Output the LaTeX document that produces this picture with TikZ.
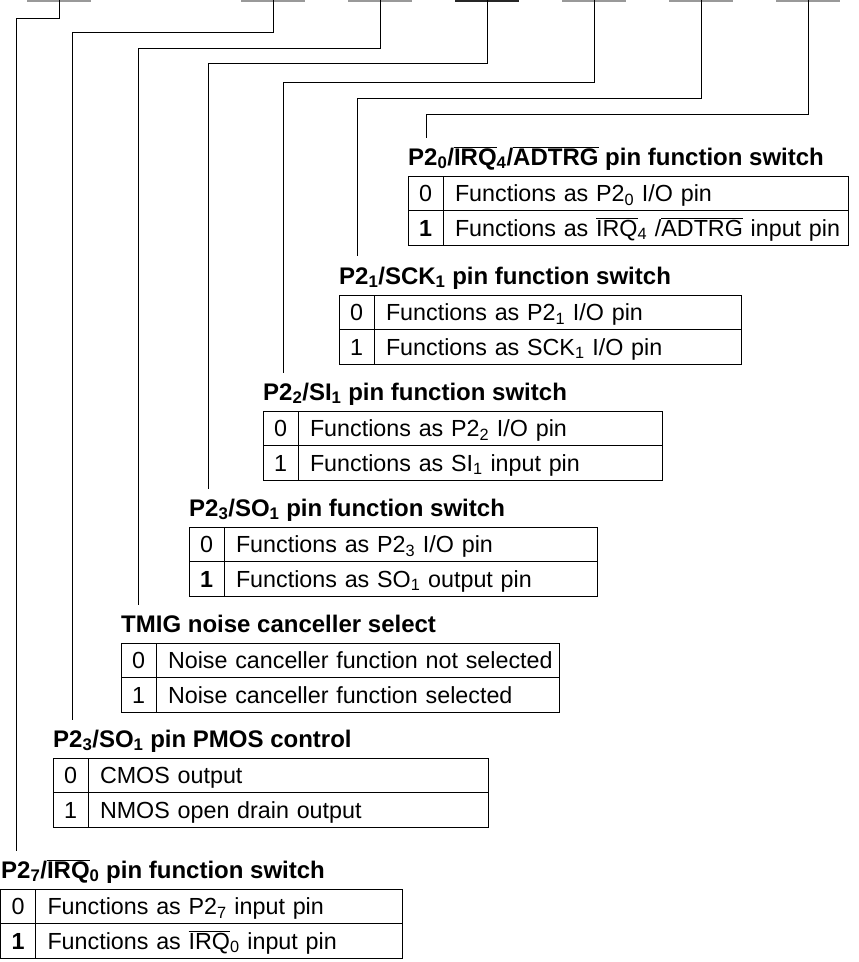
\documentclass[tikz,border=0pt]{standalone}
\usepackage{fontspec}
\setmainfont{Liberation Sans}
\usetikzlibrary{positioning,calc}
\newcommand\ttlfont{\fontsize{24}{28}\selectfont\bfseries}
\newcommand\rowfont{\fontsize{23.3}{28}\selectfont}
\newcommand\ovl[1]{\ensuremath{\overline{\mbox{#1}}}}
\newcommand\subs[1]{\textsubscript{#1}}

\begin{document}
\begin{tikzpicture}[x=1pt, y=-1pt,
  wire/.style={line width=1pt},
  seg/.style={line width=3pt, black!40},
  ttl/.style={anchor=base west, inner sep=0pt, font=\ttlfont},
  val/.style={draw, line width=1pt, minimum width=35pt, minimum height=34.5pt, inner sep=0pt, outer sep=0pt,
    anchor=north west, font=\rowfont, text height=17pt, text depth=0pt},
  desc/.style={draw, line width=1pt, minimum height=34.5pt, text width=#1pt, inner xsep=6pt, inner ysep=0pt,
    outer sep=0pt, align=left, font=\rowfont, text height=17pt, text depth=0pt,
    execute at begin node={\hyphenpenalty=10000\hspace*{6pt}}},
]
  \useasboundingbox (0,0) rectangle (859,962);
  % --- bit cells of the register ---
  \coordinate (b7) at (59,0);
  \coordinate (b5) at (273,0);
  \coordinate (b4) at (380,0);
  \coordinate (b3) at (487,0);
  \coordinate (b2) at (594,0);
  \coordinate (b1) at (701,0);
  \coordinate (b0) at (808,0);
  \foreach \b in {b7,b5,b4,b2,b1,b0}
    \draw[seg] ($(\b)+(-32,0)$) -- ($(\b)+(32,0)$);
  \draw[seg, black!85] ($(b3)+(-32,0)$) -- ($(b3)+(32,0)$);

  % --- wire ends above the titles ---
  \coordinate (e0) at (426,138);
  \coordinate (e1) at (357,256);
  \coordinate (e2) at (283,373);
  \coordinate (e3) at (208,489);
  \coordinate (e4) at (138,605);
  \coordinate (e5) at (72,720);
  \coordinate (e7) at (16,851);
  \draw[wire] (b0) -- ++(0,114) -| (e0);
  \draw[wire] (b1) -- ++(0,98) -| (e1);
  \draw[wire] (b2) -- ++(0,82) -| (e2);
  \draw[wire] (b3) -- ++(0,63) -| (e3);
  \draw[wire] (b4) -- ++(0,48) -| (e4);
  \draw[wire] (b5) -- ++(0,32) -| (e5);
  \draw[wire] (b7) -- ++(0,18) -| (e7);

  % --- P2_0 / IRQ4 / ADTRG ---
  \node[ttl] (h0) at (408,165) {P2\subs{0}/\ovl{IRQ}\subs{4}/\ovl{ADTRG} pin function switch};
  \node[val] (v00) at (408,176) {0};
  \node[desc=393, right=0pt of v00] (d00) {Functions as P2\subs{0} I/O pin};
  \node[val, below=0pt of v00] (v01) {\textbf{1}};
  \node[desc=393, right=0pt of v01] (d01) {Functions as \ovl{IRQ}\subs{4} /\ovl{ADTRG} input pin};

  % --- P2_1 / SCK1 ---
  \node[ttl] (h1) at (339,284) {P2\subs{1}/SCK\subs{1} pin function switch};
  \node[val] (v10) at (339,295) {0};
  \node[desc=355, right=0pt of v10] (d10) {Functions as P2\subs{1} I/O pin};
  \node[val, below=0pt of v10] (v11) {1};
  \node[desc=355, right=0pt of v11] (d11) {Functions as SCK\subs{1} I/O pin};

  % --- P2_2 / SI1 ---
  \node[ttl] (h2) at (263,400) {P2\subs{2}/SI\subs{1} pin function switch};
  \node[val] (v20) at (263,411) {0};
  \node[desc=352, right=0pt of v20] (d20) {Functions as P2\subs{2} I/O pin};
  \node[val, below=0pt of v20] (v21) {1};
  \node[desc=352, right=0pt of v21] (d21) {Functions as SI\subs{1} input pin};

  % --- P2_3 / SO1 ---
  \node[ttl] (h3) at (189,516) {P2\subs{3}/SO\subs{1} pin function switch};
  \node[val] (v30) at (189,527) {0};
  \node[desc=361, right=0pt of v30] (d30) {Functions as P2\subs{3} I/O pin};
  \node[val, below=0pt of v30] (v31) {\textbf{1}};
  \node[desc=361, right=0pt of v31] (d31) {Functions as SO\subs{1} output pin};

  % --- TMIG noise canceller ---
  \node[ttl] (h4) at (121,632) {TMIG noise canceller select};
  \node[val] (v40) at (121,643) {0};
  \node[desc=391, right=0pt of v40] (d40) {Noise canceller function not selected};
  \node[val, below=0pt of v40] (v41) {1};
  \node[desc=391, right=0pt of v41] (d41) {Noise canceller function selected};

  % --- P2_3 / SO1 PMOS control ---
  \node[ttl] (h5) at (53,747) {P2\subs{3}/SO\subs{1} pin PMOS control};
  \node[val] (v50) at (53,758) {0};
  \node[desc=388, right=0pt of v50] (d50) {CMOS output};
  \node[val, below=0pt of v50] (v51) {1};
  \node[desc=388, right=0pt of v51] (d51) {NMOS open drain output};

  % --- P2_7 / IRQ0 ---
  \node[ttl] (h7) at (1,878) {P2\subs{7}/\ovl{IRQ}\subs{0} pin function switch};
  \node[val] (v70) at (0.5,889) {0};
  \node[desc=355, right=0pt of v70] (d70) {Functions as P2\subs{7} input pin};
  \node[val, below=0pt of v70] (v71) {\textbf{1}};
  \node[desc=355, right=0pt of v71] (d71) {Functions as \ovl{IRQ}\subs{0} input pin};
\end{tikzpicture}
\end{document}
